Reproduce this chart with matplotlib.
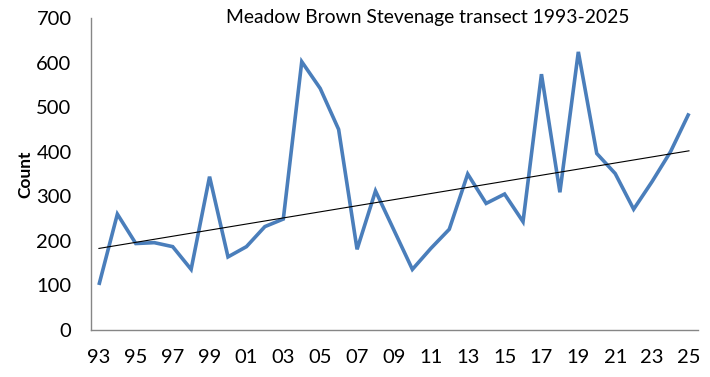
import matplotlib
matplotlib.use("Agg")
import matplotlib.pyplot as plt
import numpy as np

years = list(range(1993, 2026))
counts = [101, 260, 194, 196, 187, 136, 344, 164, 187, 232, 249, 602, 542, 450,
          181, 312, 224, 136, 183, 226, 350, 284, 305, 243, 574, 309, 624, 396,
          351, 271, 333, 400, 486]
tick_labels = [f"{y % 100:02d}" for y in years]
# linear trendline as shown in the chart (values at 1993 and 2025)
trend_years = [1993, 2025]
trend_values = [183, 402]

plt.rcParams['font.family'] = ['Lato', 'DejaVu Sans']

fig = plt.figure(figsize=(7.1, 3.77), dpi=100)
ax = fig.add_axes([91/710, 1-330/377, (698-91)/710, (330-18)/377])

x = np.arange(len(years))
ax.plot(x, counts, color='#4A7EBB', lw=2.6, solid_joinstyle='miter',
        solid_capstyle='butt')
tx = [years.index(y) for y in trend_years]
ax.plot(tx, trend_values, color='black', lw=0.8)

ax.set_xlim(-0.43, 32.49)
ax.set_ylim(0, 700)
ax.set_yticks(range(0, 701, 100))
ax.set_xticks(x[::2])
ax.set_xticklabels(tick_labels[::2])
ax.tick_params(axis='both', length=0, labelsize=14.5, colors='black')
ax.tick_params(axis='x', pad=14)
ax.tick_params(axis='y', pad=14)
for s in ['top', 'right']:
    ax.spines[s].set_visible(False)
for s in ['left', 'bottom']:
    ax.spines[s].set_color('#868686')
    ax.spines[s].set_linewidth(1.0)

ax.set_ylabel('Count', fontsize=12.5, fontweight='bold', labelpad=2)
fig.text(428/710, 1-18/377, 'Meadow Brown Stevenage transect 1993-2025',
         ha='center', va='center', fontsize=13.9)

fig.savefig('out.png', dpi=100)
